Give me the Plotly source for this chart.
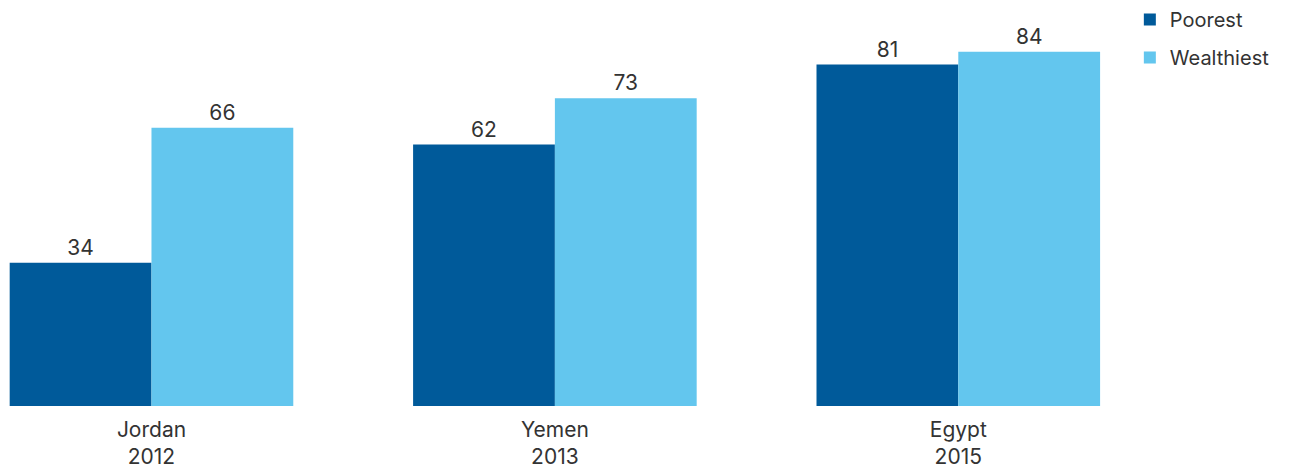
import plotly.graph_objects as go

countries = ["Jordan<br>2012", "Yemen<br>2013", "Egypt<br>2015"]
poorest = [34, 62, 81]
wealthiest = [66, 73, 84]

dark = "#005a9a"
light = "#63c6ee"
font_family = "Inter, 'Open Sans', sans-serif"
txt = "#333333"

fig = go.Figure()
fig.add_trace(go.Bar(x=countries, y=poorest, name="Poorest", marker_color=dark,
                     marker_line_width=0,
                     text=poorest, textposition="outside", cliponaxis=False,
                     textfont=dict(size=21, color=txt, family=font_family),
                     legendgroup="a"))
fig.add_trace(go.Bar(x=countries, y=wealthiest, name="Wealthiest", marker_color=light,
                     marker_line_width=0,
                     text=wealthiest, textposition="outside", cliponaxis=False,
                     textfont=dict(size=21, color=txt, family=font_family),
                     legendgroup="b"))

fig.update_layout(
    width=1305, height=469,
    margin=dict(l=0, r=145, t=0, b=63),
    barmode="group", bargap=0.297, bargroupgap=0,
    plot_bgcolor="white", paper_bgcolor="white",
    font=dict(family=font_family, size=20, color=txt),
    showlegend=True,
    legend=dict(x=0.974, y=1.0, xanchor="left", yanchor="top",
                font=dict(size=20, color=txt, family=font_family),
                tracegroupgap=9, itemwidth=30, bgcolor="rgba(0,0,0,0)"),
    xaxis=dict(range=[-0.3755, 2.5], showgrid=False, showline=False, ticks="",
               ticklabelstandoff=9,
               tickfont=dict(size=21, color=txt, family=font_family)),
    yaxis=dict(range=[0, 96.3], visible=False, showgrid=False),
)

fig.write_html("out.html", config={"displayModeBar": False},
               post_script="document.body.style.margin='0';")
